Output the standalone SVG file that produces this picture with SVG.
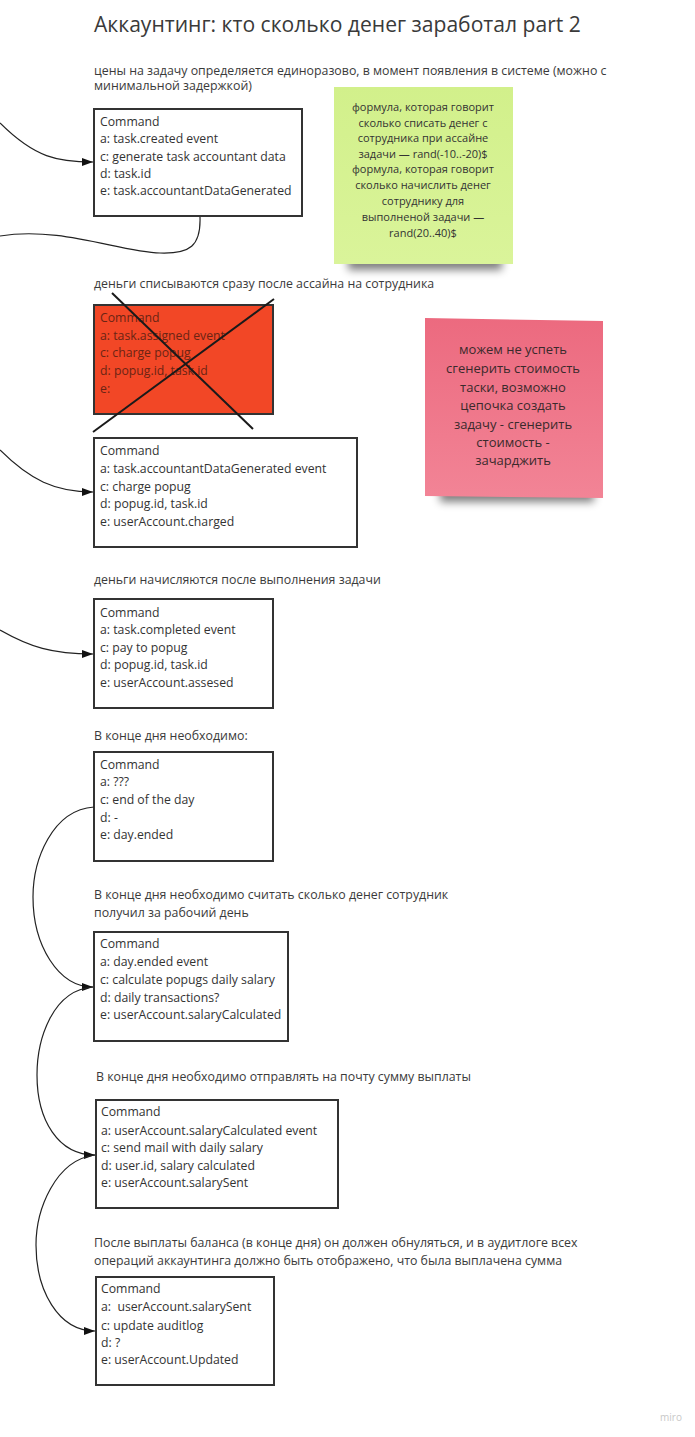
<svg xmlns="http://www.w3.org/2000/svg" width="695" height="1437" viewBox="0 0 695 1437">
<style>
text{font-family:"Open Sans","Noto Sans","DejaVu Sans",sans-serif;fill:#333}
.title{font-size:21.1px;fill:#3a3a3a}
.lbl{font-size:12.35px;fill:#3a3a3a}
.bt{font-size:12.25px;fill:#333}
.rt{font-size:12.25px;fill:#6a2414}
.box{fill:#fff;stroke:#333;stroke-width:2}
.st{font-size:11px;text-anchor:middle;fill:#333}
.pt{font-size:13px;text-anchor:middle;fill:#3a2a2c}
.conn{fill:none;stroke:#222;stroke-width:1.2}
.cross{stroke:#1a1a1a;stroke-width:2}
</style>
<defs>
<marker id="ah" markerWidth="11" markerHeight="8" refX="11" refY="4" orient="auto" markerUnits="userSpaceOnUse">
<path d="M0,0 L11,4 L0,8 z" fill="#111"/>
</marker>
<filter id="blur" x="-20%" y="-100%" width="140%" height="300%"><feGaussianBlur stdDeviation="4"/></filter>
<linearGradient id="gg" x1="0" y1="0" x2="0" y2="1"><stop offset="0" stop-color="#d2f08b"/><stop offset="1" stop-color="#daf49a"/></linearGradient>
<linearGradient id="pg" x1="0" y1="0" x2="0" y2="1"><stop offset="0" stop-color="#ec6a7f"/><stop offset="1" stop-color="#f28496"/></linearGradient>
</defs>
<rect width="695" height="1437" fill="#fff"/>

<text class="title" x="94" y="32">Аккаунтинг: кто сколько денег заработал part 2</text>

<g id="label1"><text class="lbl" x="94" y="75">цены на задачу определяется единоразово, в момент появления в системе (можно с</text><text class="lbl" x="94" y="90">минимальной задержкой)</text></g>
<g id="label2"><text class="lbl" x="94" y="288">деньги списываются сразу после ассайна на сотрудника</text></g>
<g id="label3"><text class="lbl" x="94" y="584">деньги начисляются после выполнения задачи</text></g>
<g id="label4"><text class="lbl" x="94" y="740">В конце дня необходимо:</text></g>
<g id="label5"><text class="lbl" x="94" y="899">В конце дня необходимо считать сколько денег сотрудник</text><text class="lbl" x="94" y="917">получил за рабочий день</text></g>
<g id="label6"><text class="lbl" x="96" y="1081">В конце дня необходимо отправлять на почту сумму выплаты</text></g>
<g id="label7"><text class="lbl" x="94" y="1247">После выплаты баланса (в конце дня) он должен обнуляться, и в аудитлоге всех</text><text class="lbl" x="94" y="1265">операций аккаунтинга должно быть отображено, что была выплачена сумма</text></g>

<g id="sticky-green">
<rect x="348" y="252" width="154" height="18" fill="#000" opacity="0.5" filter="url(#blur)"/>
<rect x="334" y="87" width="179" height="177" fill="url(#gg)"/>
<text class="st" x="423" y="111">формула, которая говорит</text>
<text class="st" x="423" y="127">сколько списать денег с</text>
<text class="st" x="423" y="142">сотрудника при ассайне</text>
<text class="st" x="423" y="158">задачи — rand(-10..-20)$</text>
<text class="st" x="423" y="173">формула, которая говорит</text>
<text class="st" x="423" y="189">сколько начислить денег</text>
<text class="st" x="423" y="205">сотруднику для</text>
<text class="st" x="423" y="221">выполненой задачи —</text>
<text class="st" x="423" y="237">rand(20..40)$</text>
</g>

<g id="sticky-pink">
<rect x="440" y="484" width="154" height="18" fill="#000" opacity="0.5" filter="url(#blur)"/>
<polygon points="425,318 603,321 603,498 425,496" fill="url(#pg)"/>
<text class="pt" x="513" y="354">можем не успеть</text>
<text class="pt" x="513" y="373">сгенерить стоимость</text>
<text class="pt" x="513" y="392">таски, возможно</text>
<text class="pt" x="513" y="410">цепочка создать</text>
<text class="pt" x="513" y="429">задачу - сгенерить</text>
<text class="pt" x="513" y="447">стоимость -</text>
<text class="pt" x="513" y="465">зачарджить</text>
</g>

<g id="cmd1">
<rect class="box" x="94" y="109" width="208" height="107"/>
<text class="bt" x="100" y="126">Command</text>
<text class="bt" x="100" y="143">a: task.created event</text>
<text class="bt" x="100" y="161">c: generate task accountant data</text>
<text class="bt" x="100" y="178">d: task.id</text>
<text class="bt" x="100" y="195">e: task.accountantDataGenerated</text>
</g>

<g id="cmd-cancelled">
<rect x="94" y="305" width="179" height="109" fill="#f24726" stroke="#333" stroke-width="2"/>
<text class="rt" x="100" y="322">Command</text>
<text class="rt" x="100" y="340">a: task.assigned event</text>
<text class="rt" x="100" y="357">c: charge popug</text>
<text class="rt" x="100" y="375">d: popug.id, task.id</text>
<text class="rt" x="100" y="393">e:</text>
<line class="cross" x1="112" y1="293" x2="253" y2="429"/>
<line class="cross" x1="274" y1="299" x2="93" y2="432"/>
</g>

<g id="cmd2">
<rect class="box" x="94" y="438" width="263" height="109"/>
<text class="bt" x="100" y="455">Command</text>
<text class="bt" x="100" y="473">a: task.accountantDataGenerated event</text>
<text class="bt" x="100" y="491">c: charge popug</text>
<text class="bt" x="100" y="508">d: popug.id, task.id</text>
<text class="bt" x="100" y="526">e: userAccount.charged</text>
</g>

<g id="cmd3">
<rect class="box" x="94" y="599" width="179" height="109"/>
<text class="bt" x="100" y="617">Command</text>
<text class="bt" x="100" y="634">a: task.completed event</text>
<text class="bt" x="100" y="652">c: pay to popug</text>
<text class="bt" x="100" y="669">d: popug.id, task.id</text>
<text class="bt" x="100" y="687">e: userAccount.assesed</text>
</g>

<g id="cmd4">
<rect class="box" x="94" y="752" width="179" height="109"/>
<text class="bt" x="100" y="769">Command</text>
<text class="bt" x="100" y="786">a: ???</text>
<text class="bt" x="100" y="804">c: end of the day</text>
<text class="bt" x="100" y="822">d: -</text>
<text class="bt" x="100" y="839">e: day.ended</text>
</g>

<g id="cmd5">
<rect class="box" x="94" y="932" width="194" height="109"/>
<text class="bt" x="100" y="948">Command</text>
<text class="bt" x="100" y="966">a: day.ended event</text>
<text class="bt" x="100" y="984">c: calculate popugs daily salary</text>
<text class="bt" x="100" y="1002">d: daily transactions?</text>
<text class="bt" x="100" y="1019">e: userAccount.salaryCalculated</text>
</g>

<g id="cmd6">
<rect class="box" x="96" y="1100" width="242" height="108"/>
<text class="bt" x="101" y="1116">Command</text>
<text class="bt" x="101" y="1135">a: userAccount.salaryCalculated event</text>
<text class="bt" x="101" y="1152">c: send mail with daily salary</text>
<text class="bt" x="101" y="1170">d: user.id, salary calculated</text>
<text class="bt" x="101" y="1187">e: userAccount.salarySent</text>
</g>

<g id="cmd7">
<rect class="box" x="96" y="1277" width="178" height="108"/>
<text class="bt" x="101" y="1293">Command</text>
<text class="bt" x="101" y="1311" xml:space="preserve">a:  userAccount.salarySent</text>
<text class="bt" x="101" y="1330">c: update auditlog</text>
<text class="bt" x="101" y="1347">d: ?</text>
<text class="bt" x="101" y="1364">e: userAccount.Updated</text>
</g>

<g id="connectors">
<path class="conn" d="M0,123 C35,158 58,162 93,162" marker-end="url(#ah)"/>
<path class="conn" d="M200,217 C201,246 190,254 160,253 C120,252 60,226 0,236"/>
<path class="conn" d="M0,450 C30,480 55,492 93,492" marker-end="url(#ah)"/>
<path class="conn" d="M0,630 C30,647 52,654 93,654" marker-end="url(#ah)"/>
<path class="conn" d="M94,807 C52,810 33,860 33,897 C33,945 58,987 93,987" marker-end="url(#ah)"/>
<path class="conn" d="M93,987 C52,990 37,1040 37,1075 C37,1120 58,1155 95,1155" marker-end="url(#ah)"/>
<path class="conn" d="M95,1155 C55,1160 36,1210 36,1245 C36,1290 58,1331 95,1331" marker-end="url(#ah)"/>
</g>

<text x="671" y="1421" font-size="10" text-anchor="middle" style="fill:#c8c8c8">miro</text>
</svg>
